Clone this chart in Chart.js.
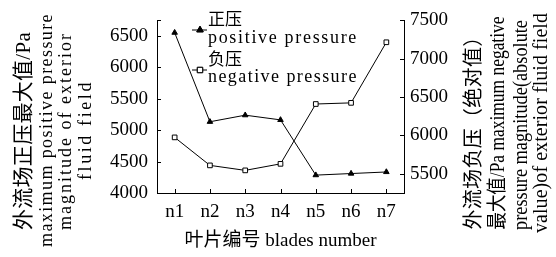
<!doctype html>
<html>
<head>
  <meta charset="utf-8" />
  <title>Blades pressure</title>
  <style>
    html,body{margin:0;padding:0;background:#fff}
    .wrap{width:556px;height:257px}
  </style>
</head>
<body>
  <div class="wrap"><canvas id="chart" width="556" height="257"></canvas></div>

  <script src="https://cdn.jsdelivr.net/npm/chart.js@4.4.1/dist/chart.umd.min.js"></script>
  <script>
    // values
    const blades = ['n1', 'n2', 'n3', 'n4', 'n5', 'n6', 'n7'];
    const positivePressure = [6555, 5135, 5240, 5165, 4285, 4310, 4335];
    const negativePressure = [5975, 5610, 5545, 5630, 6410, 6425, 7215];

    const leftTicks = [4000, 4500, 5000, 5500, 6000, 6500];
    const rightTicks = [5500, 6000, 6500, 7000, 7500];
    const leftRange = [4000, 6750];
    const rightRange = [5250, 7500];

    const legendLabels = [['正压', 'positive pressure'], ['负压', 'negative pressure']];
    const xTitle = '叶片编号 blades number';
    const leftTitle = ['外流场正压最大值/Pa', 'maximum positive pressure', 'magnitude of exterior', 'fluid field'];
    const rightTitle = ['外流场负压（绝对值）', '最大值/Pa maximum negative', 'pressure magnitude(absolute', 'value)of exterior fluid field'];

    const SERIF = "'Liberation Serif', 'Noto Sans CJK SC', serif";
    const CJK = "'Noto Sans CJK SC', sans-serif";

    // squeeze or letter-space a string so it covers `width` px
    function fitText(ctx, text, x, y, width) {
      const w = ctx.measureText(text).width;
      if (w >= width) {
        ctx.fillText(text, x, y, width);
        return;
      }
      const n = [...text].length;
      ctx.letterSpacing = ((width - w) / n).toFixed(2) + 'px';
      ctx.fillText(text, x, y);
      ctx.letterSpacing = '0px';
    }

    function drawVertical(ctx, text, x, y, len, font) {
      ctx.save();
      ctx.font = font;
      ctx.translate(x, y);
      ctx.rotate(-Math.PI / 2);
      ctx.textAlign = 'center';
      ctx.textBaseline = 'middle';
      fitText(ctx, text, 0, 0, len);
      ctx.restore();
    }

    // side titles, both read bottom-to-top
    const sideTitles = {
      id: 'sideTitles',
      afterDraw(chart) {
        const ctx = chart.ctx;
        ctx.save();
        ctx.fillStyle = '#000';
        const L = [
          { x: 24, y: 131, len: 198, font: '21px ' + SERIF },
          { x: 47, y: 130, len: 234, font: '18px ' + SERIF },
          { x: 66, y: 131, len: 198, font: '18px ' + SERIF },
          { x: 86, y: 130, len: 100, font: '18px ' + SERIF }
        ];
        leftTitle.forEach((t, i) => drawVertical(ctx, t, L[i].x, L[i].y, L[i].len, L[i].font));
        const R = [
          { x: 475, y: 128, len: 203, font: '20px ' + SERIF },
          { x: 499, y: 123, len: 213, font: '20px ' + SERIF },
          { x: 522, y: 125, len: 210, font: '20px ' + SERIF },
          { x: 542, y: 123, len: 220, font: '20px ' + SERIF }
        ];
        rightTitle.forEach((t, i) => drawVertical(ctx, t, R[i].x, R[i].y, R[i].len, R[i].font));
        ctx.restore();
      }
    };

    // tick marks pointing into the plot
    const inwardTicks = {
      id: 'inwardTicks',
      afterDatasetsDraw(chart) {
        const { ctx, chartArea: a, scales } = chart;
        const len = 4;
        ctx.save();
        ctx.strokeStyle = '#000';
        ctx.lineWidth = 1;
        ctx.beginPath();
        scales.x.ticks.forEach((t, i) => {
          const x = Math.round(scales.x.getPixelForTick(i)) + 0.5;
          ctx.moveTo(x, a.bottom);
          ctx.lineTo(x, a.bottom - len);
        });
        scales.y.ticks.forEach(t => {
          const y = Math.round(scales.y.getPixelForValue(t.value)) + 0.5;
          ctx.moveTo(a.left, y);
          ctx.lineTo(a.left + len, y);
        });
        scales.y1.ticks.forEach(t => {
          const y = Math.round(scales.y1.getPixelForValue(t.value)) + 0.5;
          ctx.moveTo(a.right, y);
          ctx.lineTo(a.right - len, y);
        });
        ctx.stroke();
        ctx.restore();
      }
    };

    // legend with two-line labels
    const twoLineLegend = {
      id: 'twoLineLegend',
      afterDraw(chart) {
        const ctx = chart.ctx;
        const rows = [{ my: 30, cy: 18.5, ly: 43 }, { my: 70, cy: 58.5, ly: 82 }];
        const mx = 200, tx = 208;
        ctx.save();
        chart.data.datasets.forEach((ds, i) => {
          const r = rows[i];
          ctx.strokeStyle = '#000';
          ctx.lineWidth = 1;
          ctx.beginPath();
          ctx.moveTo(mx - 8, r.my);
          ctx.lineTo(mx + 7, r.my);
          ctx.stroke();
          ctx.fillStyle = ds.pointBackgroundColor;
          Chart.helpers.drawPoint(ctx, {
            pointStyle: ds.pointStyle, radius: ds.pointRadius + 0.5,
            rotation: 0, borderWidth: 1
          }, mx, r.my);
          ctx.fill();
          ctx.stroke();

          ctx.fillStyle = '#000';
          ctx.textAlign = 'left';
          ctx.textBaseline = 'middle';
          ctx.font = '17px ' + CJK;
          ctx.fillText(legendLabels[i][0], tx, r.cy);
          ctx.textBaseline = 'alphabetic';
          ctx.font = '18px ' + SERIF;
          fitText(ctx, legendLabels[i][1], tx, r.ly, 150);
        });
        ctx.restore();
      }
    };

    const tickFont = { family: SERIF, size: 19 };

    new Chart(document.getElementById('chart'), {
      type: 'line',
      data: {
        labels: blades,
        datasets: [
          {
            label: legendLabels[0].join(' '),
            data: positivePressure,
            yAxisID: 'y',
            borderColor: '#000',
            borderWidth: 1,
            pointStyle: 'triangle',
            pointRadius: 3.2,
            pointBackgroundColor: '#000',
            pointBorderColor: '#000',
            pointBorderWidth: 1,
            tension: 0,
            fill: false
          },
          {
            label: legendLabels[1].join(' '),
            data: negativePressure,
            yAxisID: 'y1',
            borderColor: '#000',
            borderWidth: 1,
            pointStyle: 'rect',
            pointRadius: 3.3,
            pointBackgroundColor: '#fff',
            pointBorderColor: '#000',
            pointBorderWidth: 1,
            tension: 0,
            fill: false
          }
        ]
      },
      options: {
        responsive: false,
        animation: false,
        devicePixelRatio: 1,
        layout: { padding: { top: 16, left: 0, right: 0, bottom: 0 } },
        plugins: { legend: { display: false }, tooltip: { enabled: false } },
        scales: {
          x: {
            type: 'category',
            offset: true,
            border: { color: '#000', width: 1 },
            grid: { drawOnChartArea: false, drawTicks: false },
            ticks: { color: '#000', font: tickFont, padding: 8, maxRotation: 0, autoSkip: false },
            title: { display: true, text: xTitle, color: '#000', font: { family: SERIF, size: 19 }, padding: { top: 0, bottom: 5 } },
            afterFit(s) { s.height = 64; }
          },
          y: {
            position: 'left',
            min: leftRange[0],
            max: leftRange[1],
            border: { color: '#000', width: 1 },
            grid: { drawOnChartArea: false, drawTicks: false },
            ticks: {
              color: '#000', font: tickFont, padding: 9,
              callback: v => leftTicks.includes(v) ? String(v) : ''
            },
            afterBuildTicks(s) { s.ticks = leftTicks.concat([leftRange[1]]).map(v => ({ value: v })); },
            afterFit(s) { s.width = 157; }
          },
          y1: {
            position: 'right',
            min: rightRange[0],
            max: rightRange[1],
            border: { color: '#000', width: 1 },
            grid: { drawOnChartArea: false, drawTicks: false },
            ticks: {
              color: '#000', font: tickFont, padding: 6,
              callback: v => rightTicks.includes(v) ? String(v) : ''
            },
            afterBuildTicks(s) { s.ticks = rightTicks.map(v => ({ value: v })); },
            afterFit(s) { s.width = 152; }
          }
        }
      },
      plugins: [sideTitles, inwardTicks, twoLineLegend]
    });
  </script>
</body>
</html>
